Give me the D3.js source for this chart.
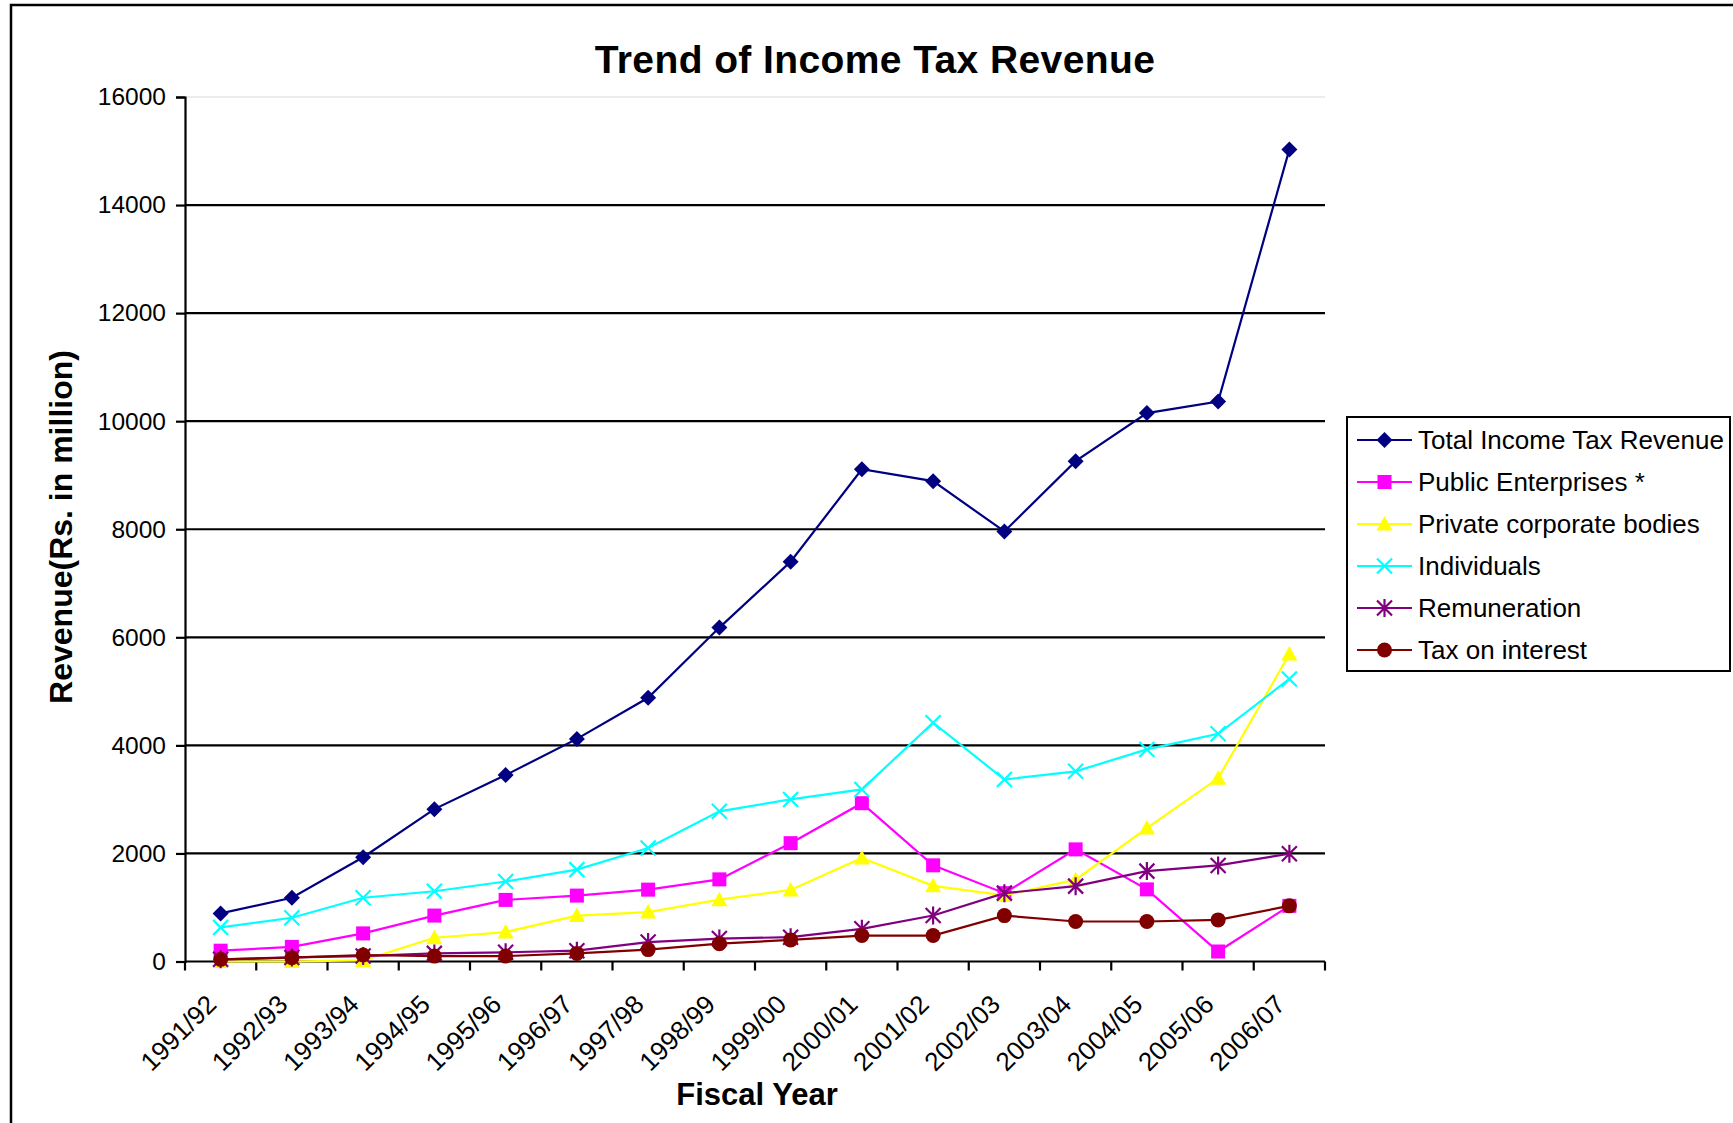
<!DOCTYPE html>
<html>
<head>
<meta charset="utf-8">
<script src="https://cdn.jsdelivr.net/npm/d3@7"></script>
<style>
  html, body { margin: 0; padding: 0; background: #fff; }
  svg { display: block; font-family: "Liberation Sans", Arial, sans-serif; }
</style>
</head>
<body>
<svg id="chart" width="1733" height="1123"></svg>
<script>
// Fiscal years on the category axis
const categories = ["1991/92", "1992/93", "1993/94", "1994/95", "1995/96", "1996/97", "1997/98", "1998/99",
                    "1999/00", "2000/01", "2001/02", "2002/03", "2003/04", "2004/05", "2005/06", "2006/07"];

// Revenue by source, Rs. in million
const totalRevenue     = [890, 1180, 1930, 2820, 3450, 4120, 4880, 6180, 7400, 9110, 8890, 7960, 9260, 10150, 10365, 15030];
const publicEnterprises = [200, 270, 520, 850, 1140, 1220, 1330, 1520, 2190, 2930, 1780, 1265, 2075, 1335, 185, 1030];
const privateCorporate = [0, 0, 20, 440, 545, 850, 915, 1145, 1325, 1915, 1400, 1225, 1515, 2470, 3390, 5690];
const individuals      = [630, 810, 1180, 1300, 1480, 1700, 2100, 2780, 3000, 3185, 4420, 3367, 3520, 3925, 4215, 5230];
const remuneration     = [40, 75, 100, 150, 170, 200, 360, 425, 450, 605, 852, 1265, 1395, 1673, 1778, 1994];
const taxOnInterest    = [40, 70, 120, 100, 100, 150, 220, 330, 400, 480, 480, 850, 740, 740, 770, 1030];

const yTicks = [0, 2000, 4000, 6000, 8000, 10000, 12000, 14000, 16000];

const seriesNames = ["Total Income Tax Revenue", "Public Enterprises *", "Private corporate bodies",
                     "Individuals", "Remuneration", "Tax on interest"];

const series = [
  { name: seriesNames[0], values: totalRevenue,      color: "#000080", marker: "diamond" },
  { name: seriesNames[1], values: publicEnterprises, color: "#FF00FF", marker: "square" },
  { name: seriesNames[2], values: privateCorporate,  color: "#FFFF00", marker: "triangle" },
  { name: seriesNames[3], values: individuals,       color: "#00FFFF", marker: "x" },
  { name: seriesNames[4], values: remuneration,      color: "#800080", marker: "star" },
  { name: seriesNames[5], values: taxOnInterest,     color: "#800000", marker: "circle" }
];

const svg = d3.select("#chart");

// Outer chart frame
svg.append("rect")
  .attr("x", 11).attr("y", 5).attr("width", 1760).attr("height", 1160)
  .attr("fill", "none").attr("stroke", "#000").attr("stroke-width", 2.5);

const plot = { left: 185, right: 1325, top: 97, bottom: 961.5 };

const x = d3.scaleBand().domain(categories).range([plot.left, plot.right]).padding(0);
const y = d3.scaleLinear().domain([0, 16000]).range([plot.bottom, plot.top]);
const cx = d => x(d) + x.bandwidth() / 2;

// Title
svg.append("text")
  .attr("x", 875).attr("y", 73)
  .attr("text-anchor", "middle")
  .attr("font-size", 39).attr("font-weight", "bold")
  .attr("letter-spacing", 0.4)
  .text("Trend of Income Tax Revenue");

// Faint plot-area top edge
svg.append("line")
  .attr("x1", plot.left).attr("x2", plot.right)
  .attr("y1", y(16000)).attr("y2", y(16000))
  .attr("stroke", "#e6e6e6").attr("stroke-width", 1.5);

// Horizontal gridlines
svg.append("g")
  .selectAll("line")
  .data(yTicks.filter(t => t > 0 && t < 16000))
  .join("line")
  .attr("x1", plot.left).attr("x2", plot.right)
  .attr("y1", d => y(d)).attr("y2", d => y(d))
  .attr("stroke", "#000").attr("stroke-width", 2.2);

// Y axis
const yAxis = svg.append("g")
  .attr("transform", `translate(${plot.left},0)`)
  .call(d3.axisLeft(y).tickValues(yTicks).tickSize(9).tickPadding(10).tickFormat(d3.format("d")));
yAxis.select(".domain").attr("stroke", "#000").attr("stroke-width", 2.2);
yAxis.selectAll(".tick line").attr("stroke", "#000").attr("stroke-width", 2.2);
yAxis.selectAll(".tick text")
  .attr("font-size", 24.5).attr("fill", "#000")
  .attr("font-family", "Liberation Sans, Arial, sans-serif");

// X axis: line, boundary ticks, rotated labels
const xAxis = svg.append("g").attr("transform", `translate(0,${plot.bottom})`);
xAxis.append("line")
  .attr("x1", plot.left).attr("x2", plot.right)
  .attr("stroke", "#000").attr("stroke-width", 2.2);
const boundaries = categories.map(c => x(c)).concat([plot.right]);
xAxis.selectAll("line.tick")
  .data(boundaries)
  .join("line")
  .attr("class", "tick")
  .attr("x1", d => d).attr("x2", d => d)
  .attr("y1", 0).attr("y2", 9)
  .attr("stroke", "#000").attr("stroke-width", 2.2);

svg.append("g")
  .selectAll("text")
  .data(categories)
  .join("text")
  .attr("transform", d => `translate(${cx(d) - 9},${plot.bottom + 38}) rotate(-45)`)
  .attr("text-anchor", "end")
  .attr("dy", "0.35em")
  .attr("font-size", 26)
  .text(d => d);

// Axis titles
svg.append("text")
  .attr("x", 757).attr("y", 1105)
  .attr("text-anchor", "middle")
  .attr("font-size", 31).attr("font-weight", "bold")
  .text("Fiscal Year");

svg.append("text")
  .attr("transform", "translate(61,527) rotate(-90)")
  .attr("text-anchor", "middle")
  .attr("dy", "0.35em")
  .attr("font-size", 32).attr("font-weight", "bold")
  .text("Revenue(Rs. in million)");

// Marker shapes
function drawMarker(g, type, color) {
  if (type === "diamond") {
    g.append("path").attr("d", "M0,-8L8,0L0,8L-8,0Z").attr("fill", color);
  } else if (type === "square") {
    g.append("rect").attr("x", -7).attr("y", -7).attr("width", 14).attr("height", 14).attr("fill", color);
  } else if (type === "triangle") {
    g.append("path").attr("d", "M0,-8L8,6.5L-8,6.5Z").attr("fill", color);
  } else if (type === "circle") {
    g.append("circle").attr("r", 7.5).attr("fill", color);
  } else if (type === "x") {
    g.append("path").attr("d", "M-7.5,-7.5L7.5,7.5M7.5,-7.5L-7.5,7.5")
      .attr("stroke", color).attr("stroke-width", 2.2).attr("fill", "none");
  } else if (type === "star") {
    g.append("path").attr("d", "M-7.5,-7.5L7.5,7.5M7.5,-7.5L-7.5,7.5M0,-9L0,9")
      .attr("stroke", color).attr("stroke-width", 2.2).attr("fill", "none");
  }
}

const line = d3.line().x((d, i) => cx(categories[i])).y(d => y(d));

// Series lines and markers
series.forEach(s => {
  const g = svg.append("g");
  g.append("path")
    .attr("d", line(s.values))
    .attr("fill", "none")
    .attr("stroke", s.color)
    .attr("stroke-width", 2.2);
  s.values.forEach((v, i) => {
    const m = g.append("g").attr("transform", `translate(${cx(categories[i])},${y(v)})`);
    drawMarker(m, s.marker, s.color);
  });
});

// Legend
const legend = svg.append("g");
legend.append("rect")
  .attr("x", 1347).attr("y", 417).attr("width", 383).attr("height", 254)
  .attr("fill", "#fff").attr("stroke", "#000").attr("stroke-width", 2);

series.forEach((s, i) => {
  const ly = 440 + i * 42;
  const item = legend.append("g");
  item.append("line")
    .attr("x1", 1357).attr("x2", 1412).attr("y1", ly).attr("y2", ly)
    .attr("stroke", s.color).attr("stroke-width", 2.2);
  drawMarker(item.append("g").attr("transform", `translate(1384.5,${ly})`), s.marker, s.color);
  item.append("text")
    .attr("x", 1418).attr("y", ly).attr("dy", "0.35em")
    .attr("font-size", 26)
    .text(s.name);
});
</script>
</body>
</html>
